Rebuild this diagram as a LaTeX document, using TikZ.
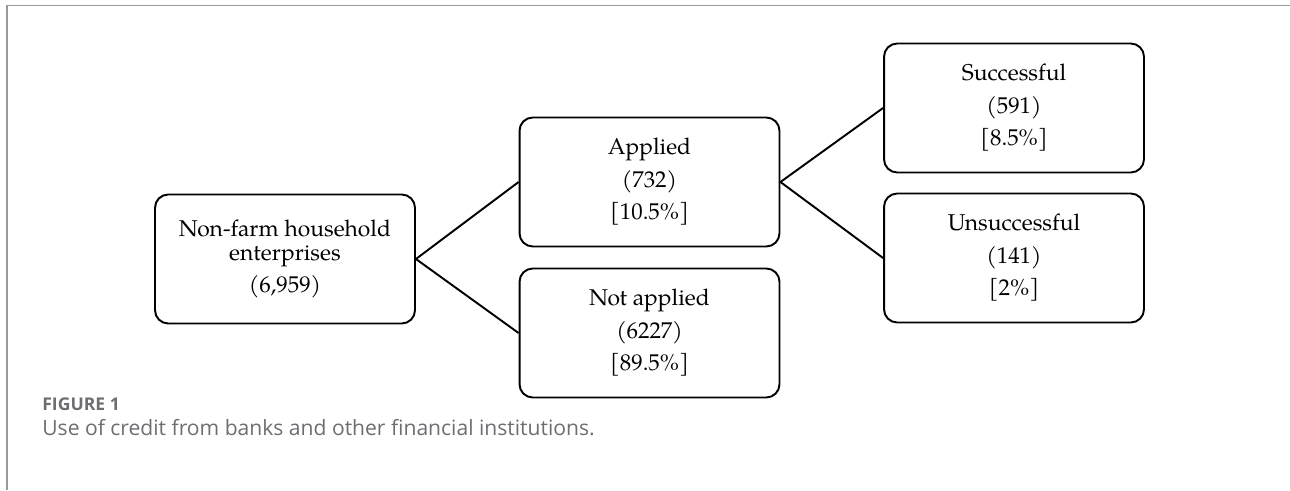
\documentclass[tikz,border=0pt]{standalone}
\usepackage{fontspec}
\setmainfont{TeX Gyre Pagella}
\newfontfamily\capfont{Open Sans}
\usepackage{tikz}
\usetikzlibrary{positioning}
\definecolor{frameline}{HTML}{9A9A9A}
\definecolor{captext}{HTML}{6D6E71}

\begin{document}
\begin{tikzpicture}[x=0.02cm,y=-0.02cm,
  box/.style={draw,line width=1.1pt,rounded corners=7.5pt,minimum width=5.2cm,minimum height=2.58cm,align=center,font=\fontsize{13}{18.5}\selectfont},
  link/.style={line width=1.1pt}]
\useasboundingbox (0,0) rectangle (1290,490);
% frame of the figure
\draw[frameline,line width=1.1pt] (1290,5.5) -- (7,5.5) -- (7,490);
% tree
\node[box] (firms) at (285,259) {Non-farm household\\[-4.8pt]enterprises\\(6,959)};
\node[box] (applied) at (649.5,182) {Applied\\(732)\\{}[10.5\%]};
\node[box] (notapplied) at (649.5,333) {Not applied\\(6227)\\{}[89.5\%]};
\node[box] (success) at (1014,108) {Successful\\(591)\\{}[8.5\%]};
\node[box] (fail) at (1014,258) {Unsuccessful\\(141)\\{}[2\%]};
\draw[link] (applied.west) -- (firms.east) -- (notapplied.west);
\draw[link] (success.west) -- (applied.east) -- (fail.west);
% caption
\node[anchor=base west,inner sep=0pt,text=captext,font=\capfont\bfseries\fontsize{10}{12}\selectfont] (figno) at (42,410) {FIGURE 1};
\node[anchor=base west,inner sep=0pt,text=captext,font=\capfont\fontsize{12}{14}\selectfont] (figcap) at (42,435) {Use of credit from banks and other financial institutions.};
\end{tikzpicture}
\end{document}
